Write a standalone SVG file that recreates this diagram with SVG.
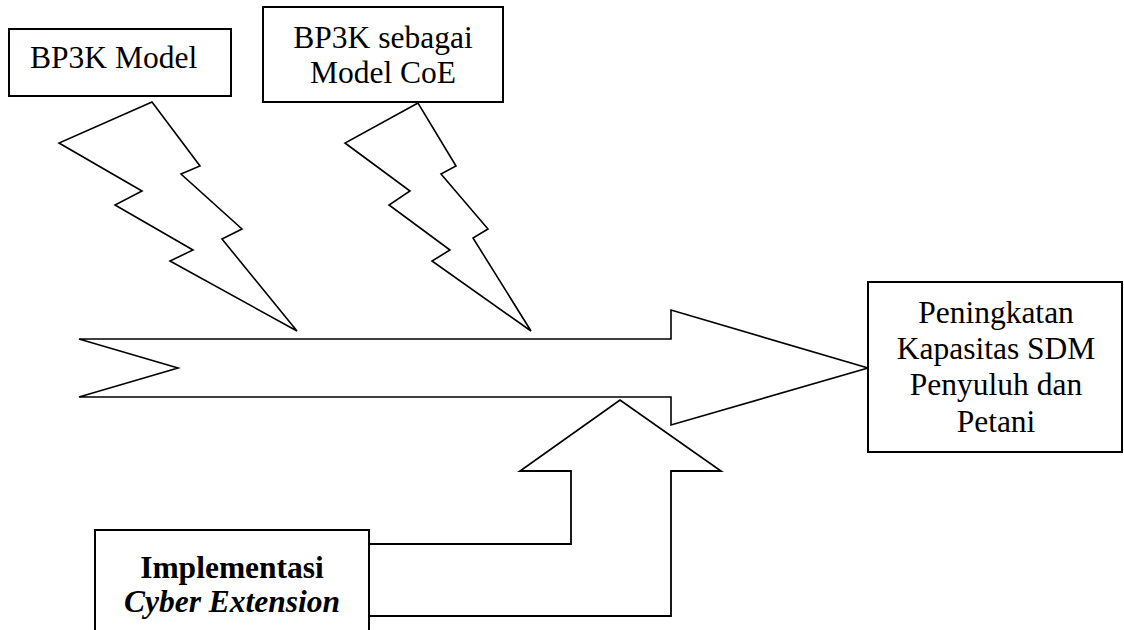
<svg xmlns="http://www.w3.org/2000/svg" width="1124" height="630" viewBox="0 0 1124 630">
<style>
.box{fill:#fff;stroke:#000;stroke-width:2}
.shape{fill:#fff;stroke:#000;stroke-width:1.6;stroke-linejoin:miter}
.line{fill:none;stroke:#000;stroke-width:1.8}
text{font-family:"Liberation Serif","Times New Roman",serif;font-size:31.5px;fill:#000}
.c{text-anchor:middle}
</style>
<rect width="1124" height="630" fill="#fff"/>
<g id="connectors">
<path id="main-arrow" class="shape" d="M79,339 L671,339 L671,310 L868,368 L671,425 L671,397 L79,397 L178,368 Z"/>
<path id="bolt1" class="shape" d="M152,102 L59,143 L142,191 L115,205 L193,250 L170,261 L297,331 L222,239 L242,229 L181,174 L200,166 Z"/>
<path id="bolt2" class="shape" d="M418,103 L345,143 L410,191 L389,205 L450,250 L432,261 L531,331 L473,238 L488,229 L441,174 L456,166 Z"/>
<path id="up-arrow" class="line" d="M369,544 L571,544 L571,471 L520,471 L620,400 L721,471 L671,471 L671,616 L369,616"/>
</g>
<g id="node-bp3k-model">
<rect class="box" x="9" y="29" width="222" height="67"/>
<text x="30" y="68">BP3K Model</text>
</g>
<g id="node-bp3k-coe">
<rect class="box" x="263" y="7" width="240" height="95"/>
<text class="c" x="383" y="48">BP3K sebagai</text>
<text class="c" x="383" y="83">Model CoE</text>
</g>
<g id="node-peningkatan">
<rect class="box" x="868" y="282" width="254" height="170"/>
<text class="c" x="996" y="323">Peningkatan</text>
<text class="c" x="996" y="359">Kapasitas SDM</text>
<text class="c" x="996" y="395">Penyuluh dan</text>
<text class="c" x="996" y="432">Petani</text>
</g>
<g id="node-implementasi">
<rect class="box" x="95" y="530" width="274" height="110"/>
<text class="c" x="232" y="578" font-weight="bold">Implementasi</text>
<text class="c" x="232" y="612" font-weight="bold" font-style="italic">Cyber Extension</text>
</g>
</svg>
